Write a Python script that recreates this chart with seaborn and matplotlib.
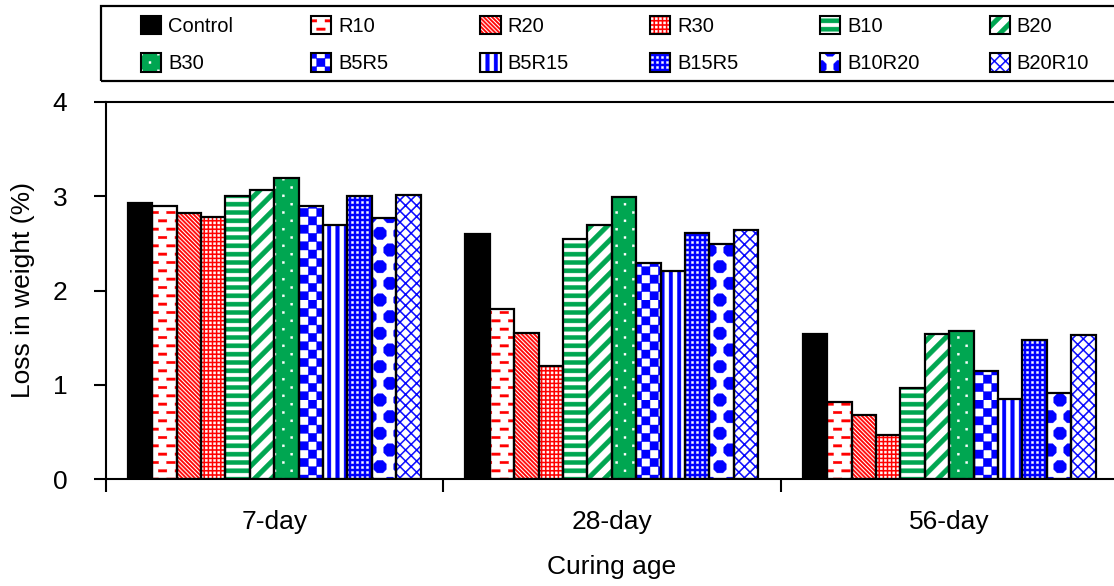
import numpy as np
import pandas as pd
import matplotlib
matplotlib.use("Agg")
import matplotlib.pyplot as plt
import matplotlib.hatch as mhatch
from matplotlib.path import Path
from matplotlib.patches import Patch, Rectangle
import seaborn as sns

# ---------------- data ----------------
ages = ["7-day", "28-day", "56-day"]
mixes = ["Control", "R10", "R20", "R30", "B10", "B20", "B30",
         "B5R5", "B5R15", "B15R5", "B10R20", "B20R10"]
control = [2.93, 2.60, 1.54]
r10 = [2.89, 1.80, 0.82]
r20 = [2.82, 1.55, 0.68]
r30 = [2.78, 1.20, 0.47]
b10 = [3.00, 2.55, 0.97]
b20 = [3.06, 2.69, 1.54]
b30 = [3.19, 2.99, 1.57]
b5r5 = [2.89, 2.29, 1.15]
b5r15 = [2.69, 2.21, 0.85]
b15r5 = [3.00, 2.61, 1.48]
b10r20 = [2.77, 2.49, 0.91]
b20r10 = [3.01, 2.64, 1.53]
series = [control, r10, r20, r30, b10, b20, b30, b5r5, b5r15, b15r5, b10r20, b20r10]

df = pd.DataFrame([(a, m, s[i]) for m, s in zip(mixes, series) for i, a in enumerate(ages)],
                  columns=["age", "mix", "loss"])

RED, GREEN, BLUE = "#FF0000", "#00A651", "#0000FF"
face = {"Control": "black", "R10": "white", "R20": "white", "R30": RED,
        "B10": "white", "B20": "white", "B30": GREEN, "B5R5": "white",
        "B5R15": "white", "B15R5": BLUE, "B10R20": "white", "B20R10": "white"}
hcol = {"Control": "black", "R10": RED, "R20": RED, "R30": "white",
        "B10": GREEN, "B20": GREEN, "B30": "white", "B5R5": BLUE,
        "B5R15": BLUE, "B15R5": "white", "B10R20": BLUE, "B20R10": BLUE}
hkey = {"Control": None, "R10": "pr10", "R20": "pr20", "R30": "pr30",
        "B10": "pb10", "B20": "pb20", "B30": "pb30", "B5R5": "pb5r5",
        "B5R15": "pb5r15", "B15R5": "pb15r5", "B10R20": "pb10r20", "B20R10": "pb20r10"}

# ---------------- custom hatch patterns (unit tile) ----------------
def rect(x0, y0, x1, y1):
    return [(x0, y0), (x1, y0), (x1, y1), (x0, y1)]

def poly_path(polys):
    verts, codes = [], []
    for p in polys:
        verts.extend(p)
        verts.append(p[0])
        codes.extend([Path.MOVETO] + [Path.LINETO] * (len(p) - 1) + [Path.CLOSEPOLY])
    return Path(np.array(verts, float), np.array(codes, dtype=Path.code_type))

def se_stripes(n, t):
    w = t / 2
    out = []
    for k in range(0, 2 * n + 1):
        c = k / n
        out.append([(-1, c + 1 - w), (2, c - 2 - w), (2, c - 2 + w), (-1, c + 1 + w)])
    return out

def ne_stripes(n, t):
    w = t / 2
    out = []
    for k in range(-n, n + 1):
        c = k / n
        out.append([(-1, c - 1 - w), (2, c + 2 - w), (2, c + 2 + w), (-1, c - 1 + w)])
    return out

def grid_dots(n, s):
    out = []
    for i in range(n):
        for j in range(n):
            cx, cy = (i + 0.5) / n, (j + 0.5) / n
            out.append(rect(cx - s / 2, cy - s / 2, cx + s / 2, cy + s / 2))
    return out

def stagger(nx, ny, fn):
    out = []
    for j in range(ny):
        yc = (j + 0.5) / ny
        off = 0 if j % 2 == 0 else 0.5 / nx
        for k in range(-1, nx + 1):
            out.append(fn(off + k / nx, yc))
    return out

def blob(cx, cy, h):
    a = h * 0.45
    return [(cx - h, cy - a), (cx - a, cy - h), (cx + a, cy - h), (cx + h, cy - a),
            (cx + h, cy + a), (cx + a, cy + h), (cx - a, cy + h), (cx - h, cy + a)]

P = {}
P["pr10"] = poly_path(stagger(6, 12, lambda x, y: rect(x, y - 0.012, x + 0.085, y + 0.012)))
P["pr20"] = poly_path(se_stripes(24, 0.02))
P["pr30"] = poly_path(grid_dots(24, 0.021))
P["pb10"] = poly_path([rect(-0.1, (j + 0.25) / 12, 1.1, (j + 0.75) / 12) for j in range(12)])
P["pb20"] = poly_path(ne_stripes(6, 0.065))
P["pb30"] = poly_path(stagger(6, 12, lambda x, y: rect(x - 0.01, y - 0.01, x + 0.01, y + 0.01)))
P["pb5r5"] = poly_path([rect(i / 12, j / 12, (i + 1) / 12, (j + 1) / 12)
                        for i in range(12) for j in range(12) if (i + j) % 2 == 0])
P["pb5r15"] = poly_path([rect((i + 0.29) / 12, -0.1, (i + 0.71) / 12, 1.1) for i in range(12)])
P["pb15r5"] = poly_path(grid_dots(20, 0.02))
dia = []
for i in range(-1, 6):
    for j in range(-1, 4):
        for (cx, cy) in [(i / 5, j / 3), ((i + 0.5) / 5, (j + 0.5) / 3)]:
            dia.append(blob(cx, cy, 0.062))
P["pb10r20"] = poly_path(dia)
P["pb20r10"] = poly_path(se_stripes(9, 0.015) + ne_stripes(9, 0.015))

_orig_get_path = mhatch.get_path
def _get_path(hatchpattern, density=6):
    if hatchpattern in P:
        return P[hatchpattern]
    return _orig_get_path(hatchpattern, density)
mhatch.get_path = _get_path
mhatch._validate_hatch_pattern = lambda h: None

# ---------------- figure ----------------
sns.set_style("ticks")
plt.rcParams["font.family"] = ["Liberation Sans", "DejaVu Sans"]
plt.rcParams["hatch.linewidth"] = 0.3
plt.rcParams["text.color"] = "black"
plt.rcParams["axes.labelcolor"] = "black"

fig = plt.figure(figsize=(11.14, 5.86), dpi=100)
ax = fig.add_axes([105.5 / 1114, 1 - 479.3 / 586, 1012.5 / 1114, 377.6 / 586])

sns.barplot(data=df, x="age", y="loss", hue="mix", order=ages, hue_order=mixes,
            palette=face, saturation=1, width=0.868, gap=0, errorbar=None,
            edgecolor="black", linewidth=1.5, legend=False, ax=ax)

for mix, cont in zip(mixes, ax.containers):
    for p in cont.patches:
        if hkey[mix] is not None:
            p.set_hatch(hkey[mix])
        p.set_edgecolor(hcol[mix])
        p.set_linewidth(0)
        ax.add_patch(Rectangle(p.get_xy(), p.get_width(), p.get_height(), fill=False,
                               edgecolor="black", linewidth=1.6, zorder=p.get_zorder() + 0.1))

ax.set_xlim(-0.5, 2.5)
ax.set_ylim(0, 4)
ax.set_yticks([0, 1, 2, 3, 4])
ax.set_xticks([-0.5, 0.5, 1.5, 2.5], minor=True)
for s in ax.spines.values():
    s.set_linewidth(1.5)
    s.set_color("black")
ax.tick_params(axis="y", length=8.6, width=1.5, pad=19, labelsize=19, colors="black")
ax.tick_params(axis="x", which="major", length=0, pad=22, labelsize=19, colors="black")
ax.tick_params(axis="x", which="minor", length=9, width=1.5, color="black")
ax.set_xlabel("Curing age", fontsize=19, color="black")
ax.set_ylabel("Loss in weight (%)", fontsize=19, color="black")
ax.xaxis.set_label_coords(0.5, -(555 - 479.3) / 377.6)
ax.yaxis.set_label_coords((35 - 105.5) / 1012.5, 0.5)

# ---------------- legend ----------------
handles = {m: (Patch(facecolor=face[m], edgecolor=hcol[m], linewidth=0, hatch=hkey[m]),
               Patch(facecolor="none", edgecolor="black", linewidth=1.5)) for m in mixes}
for c in range(6):
    col = [mixes[c], mixes[c + 6]]
    fig.legend([handles[m] for m in col], col, loc="center left",
               bbox_to_anchor=((141 + 169.7 * c) / 1114, 1 - 44.5 / 586),
               bbox_transform=fig.transFigure, frameon=False, fontsize=14.5,
               handlelength=1.0, handleheight=1.05, handletextpad=0.35,
               labelspacing=0.85, borderpad=0, borderaxespad=0, labelcolor="black")
fig.patches.append(Rectangle((101 / 1114, 1 - 81 / 586), 1.2, 75 / 586, fill=False,
                             edgecolor="black", linewidth=1.6, transform=fig.transFigure))

fig.savefig("out.png", dpi=100)
